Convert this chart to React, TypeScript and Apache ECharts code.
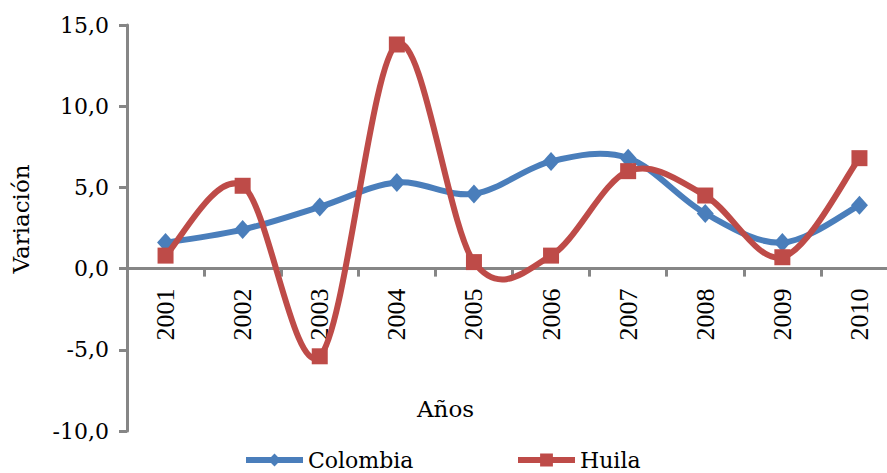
import React, { useEffect, useRef } from "react";
import * as echarts from "echarts";

const categories = ["2001", "2002", "2003", "2004", "2005", "2006", "2007", "2008", "2009", "2010"];
const colombia = [1.6, 2.4, 3.8, 5.3, 4.6, 6.6, 6.8, 3.4, 1.6, 3.9];
const huila = [0.8, 5.1, -5.4, 13.8, 0.4, 0.8, 6.0, 4.5, 0.7, 6.8];
const yMin = -10;
const yMax = 15;
const yInterval = 5;

const BLUE = "#4A7EBB";
const RED = "#BE4B48";
const AXIS = "#868686";
const SERIF = "DejaVu Serif";

const GRID_TOP = 25;
const GRID_H = 406;

// Excel-like smooth curve: Catmull-Rom segments (tension 1/6) between data points
function curveSeries(name: string, values: number[], color: string, z: number) {
  return {
    name,
    type: "custom",
    coordinateSystem: "cartesian2d",
    data: values.map((v, i) => [i, v]),
    encode: { x: 0, y: 1 },
    silent: true,
    z,
    renderItem: (params: any, api: any) => {
      const i = params.dataIndex;
      const n = values.length;
      if (i >= n - 1) return null;
      const p = (k: number) => {
        const kk = Math.max(0, Math.min(n - 1, k));
        return api.coord([kk, values[kk]]);
      };
      const p0 = p(i - 1);
      const p1 = p(i);
      const p2 = p(i + 1);
      const p3 = p(i + 2);
      const t = 1 / 6;
      return {
        type: "bezierCurve",
        shape: {
          x1: p1[0],
          y1: p1[1],
          cpx1: p1[0] + (p2[0] - p0[0]) * t,
          cpy1: p1[1] + (p2[1] - p0[1]) * t,
          cpx2: p2[0] - (p3[0] - p1[0]) * t,
          cpy2: p2[1] - (p3[1] - p1[1]) * t,
          x2: p2[0],
          y2: p2[1],
        },
        style: { stroke: color, lineWidth: 6, fill: null, lineCap: "round" },
      };
    },
  };
}

export default function App() {
  const ref = useRef<HTMLDivElement>(null);
  useEffect(() => {
    document.body.style.margin = "0";
    const chart = echarts.init(ref.current!, null, { renderer: "svg" });
    const zeroOffset = -(GRID_H * (0 - yMin)) / (yMax - yMin);
    const legendCommon = {
      top: 449,
      padding: 0,
      itemWidth: 57,
      itemHeight: 16,
      itemGap: 4,
      lineStyle: { width: 6, opacity: 1 },
      textStyle: { color: "#000", fontFamily: SERIF, fontSize: 22, padding: [0, 0, 0, 0] },
    };
    chart.setOption({
      animation: false,
      backgroundColor: "#ffffff",
      grid: {
        left: 127,
        top: GRID_TOP,
        width: 771,
        height: GRID_H,
        containLabel: false,
        outerBoundsMode: "none",
      },
      xAxis: {
        type: "category",
        data: categories,
        boundaryGap: true,
        position: "bottom",
        offset: zeroOffset,
        axisLine: { onZero: false, lineStyle: { color: AXIS, width: 3 } },
        axisTick: { show: true, length: 8, lineStyle: { color: AXIS, width: 3 } },
        axisLabel: {
          rotate: 90,
          margin: 20,
          color: "#000",
          fontFamily: "Liberation Serif",
          fontSize: 26,
        },
        splitLine: { show: false },
      },
      yAxis: {
        type: "value",
        min: yMin,
        max: yMax,
        interval: yInterval,
        axisLine: { show: true, lineStyle: { color: AXIS, width: 3 } },
        axisTick: { show: true, length: 8, lineStyle: { color: AXIS, width: 3 } },
        axisLabel: {
          margin: 18,
          color: "#000",
          fontFamily: SERIF,
          fontSize: 22,
          formatter: (v: number) => v.toFixed(1).replace(".", ","),
        },
        splitLine: { show: false },
      },
      legend: [
        { ...legendCommon, data: ["Colombia"], left: 243 },
        { ...legendCommon, data: ["Huila"], left: 515 },
      ],
      graphic: [
        {
          type: "text",
          left: 417,
          top: 397,
          style: { text: "Años", fill: "#000", font: `23px "${SERIF}"` },
        },
        {
          type: "text",
          x: 21,
          y: 219,
          rotation: Math.PI / 2,
          style: {
            text: "Variación",
            fill: "#000",
            font: `23px "${SERIF}"`,
            align: "center",
            verticalAlign: "middle",
          },
        },
      ],
      series: [
        curveSeries("Colombia curva", colombia, BLUE, 2),
        {
          name: "Colombia",
          type: "line",
          data: colombia,
          symbol: "diamond",
          symbolSize: [17, 19],
          itemStyle: { color: BLUE },
          lineStyle: { color: BLUE, width: 0 },
          z: 3,
        },
        curveSeries("Huila curva", huila, RED, 4),
        {
          name: "Huila",
          type: "line",
          data: huila,
          symbol: "rect",
          symbolSize: 16,
          itemStyle: { color: RED },
          lineStyle: { color: RED, width: 0 },
          z: 5,
        },
      ],
    });
    return () => chart.dispose();
  }, []);
  return <div ref={ref} style={{ width: 887, height: 473 }} />;
}
